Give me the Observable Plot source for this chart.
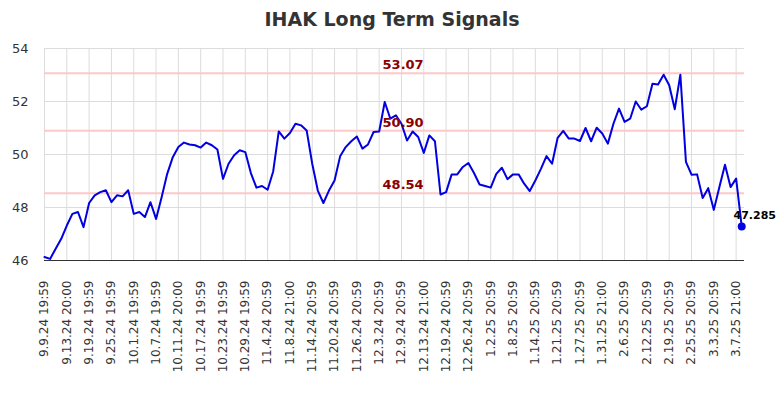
<!DOCTYPE html>
<html>
<head>
<meta charset="utf-8">
<script src="https://cdn.jsdelivr.net/npm/d3@7"></script>
<script src="https://cdn.jsdelivr.net/npm/@observablehq/plot@0.6"></script>
<style>
  html, body { margin: 0; padding: 0; background: #fff; }
  #wrap { width: 784px; height: 400px; overflow: hidden; }
  #title { height: 36px; line-height: 39px; text-align: center; font-family: "DejaVu Sans", sans-serif; font-weight: bold; font-size: 19px; color: #333; }
</style>
</head>
<body>
<div id="wrap">
  <div id="title">IHAK Long Term Signals</div>
  <div id="chart"></div>
</div>
<script>
const tickLabels = ["9.9.24 19:59","9.13.24 20:00","9.19.24 19:59","9.25.24 19:59","10.1.24 19:59","10.7.24 19:59","10.11.24 20:00","10.17.24 19:59","10.23.24 19:59","10.29.24 19:59","11.4.24 20:59","11.8.24 21:00","11.14.24 20:59","11.20.24 20:59","11.26.24 20:59","12.3.24 20:59","12.9.24 20:59","12.13.24 21:00","12.19.24 20:59","12.26.24 20:59","1.2.25 20:59","1.8.25 20:59","1.14.25 20:59","1.21.25 20:59","1.27.25 20:59","1.31.25 21:00","2.6.25 20:59","2.12.25 20:59","2.19.25 20:59","2.25.25 20:59","3.3.25 20:59","3.7.25 21:00"];
const tickEvery = 4;
const values = [
  46.13, 46.06, 46.44, 46.82, 47.32, 47.76, 47.83, 47.26, 48.17, 48.46,
  48.58, 48.65, 48.20, 48.46, 48.42, 48.65, 47.76, 47.83, 47.64, 48.20,
  47.57, 48.39, 49.27, 49.90, 50.28, 50.45, 50.38, 50.35, 50.26, 50.45,
  50.35, 50.19, 49.08, 49.65, 49.97, 50.16, 50.09, 49.30, 48.75, 48.81,
  48.67, 49.36, 50.87, 50.60, 50.81, 51.16, 51.10, 50.91, 49.65, 48.64,
  48.17, 48.64, 49.02, 49.93, 50.28, 50.50, 50.68, 50.22, 50.38, 50.85,
  50.87, 51.98, 51.35, 51.48, 51.16, 50.53, 50.87, 50.66, 50.06, 50.72,
  50.50, 48.49, 48.58, 49.25, 49.25, 49.53, 49.68, 49.30, 48.87, 48.81,
  48.75, 49.27, 49.50, 49.07, 49.25, 49.25, 48.90, 48.62, 49.02, 49.46,
  49.94, 49.65, 50.63, 50.89, 50.60, 50.60, 50.51, 51.00, 50.50, 51.01,
  50.79, 50.41, 51.16, 51.73, 51.23, 51.35, 52.00, 51.69, 51.82, 52.67,
  52.64, 53.01, 52.61, 51.71, 53.01, 49.72, 49.24, 49.25, 48.36, 48.73,
  47.91, 48.77, 49.61, 48.77, 49.09, 47.285
];
const levels = [53.07, 50.90, 48.54];
const levelLabels = ["53.07", "50.90", "48.54"];
const yTicks = [46, 48, 50, 52, 54];
const lastLabel = "47.285";

const n = values.length;
const tickIdx = tickLabels.map((_, k) => k * tickEvery);
const pts = values.map((v, i) => ({i, v}));
const last = pts[n - 1];
const mid = (n - 1) / 2;

const chart = Plot.plot({
  width: 784,
  height: 364,
  marginTop: 12,
  marginBottom: 140,
  marginLeft: 44,
  marginRight: 40,
  style: {fontFamily: "DejaVu Sans, sans-serif", fontSize: "12px", color: "#333", background: "#fff", overflow: "visible"},
  x: {type: "linear", domain: [0, n - 0.5], label: null},
  y: {domain: [yTicks[0], yTicks[yTicks.length - 1]], label: null},
  marks: [
    Plot.gridX(tickIdx, {stroke: "#dcdcdc", strokeOpacity: 1}),
    Plot.gridY(yTicks, {stroke: "#dcdcdc", strokeOpacity: 1}),
    Plot.ruleY(levels, {stroke: "#ffc8c8", strokeWidth: 2}),
    Plot.lineY(pts, {x: "i", y: "v", stroke: "#0000e0", strokeWidth: 2}),
    Plot.ruleY([yTicks[0]], {stroke: "#333", strokeWidth: 1}),
    Plot.text(levels, {x: () => mid, y: d => d, text: (d, k) => levelLabels[k], fill: "#8b0000", fontWeight: "bold", fontSize: 13, dx: 10, dy: -8}),
    Plot.dot([last], {x: "i", y: "v", r: 4, fill: "#0000e0", stroke: null}),
    Plot.text([last], {x: "i", y: "v", text: () => lastLabel, fill: "#000", fontWeight: "bold", fontSize: 11, dx: 13, dy: -11}),
    Plot.axisX(tickIdx, {tickFormat: d => tickLabels[d / tickEvery], tickRotate: -90, tickSize: 0, tickPadding: 20, fontSize: 12, fill: "#333", label: null}),
    Plot.axisY(yTicks, {tickSize: 0, tickPadding: 16, fontSize: 13, fill: "#333", label: null})
  ]
});
document.getElementById("chart").appendChild(chart);
</script>
</body>
</html>
